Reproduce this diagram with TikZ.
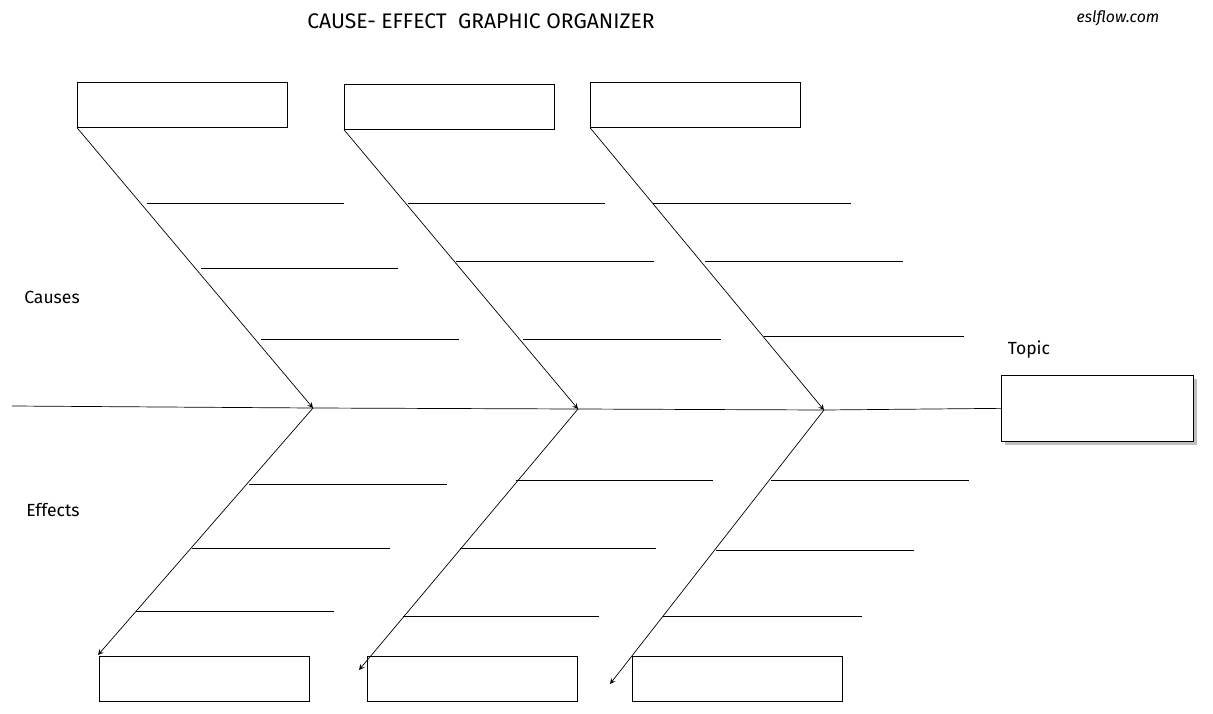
\documentclass[tikz,border=0pt]{standalone}
\usepackage{fontspec}
\setmainfont{Fira Sans}
\usetikzlibrary{shadows}

\tikzset{
  box/.style={draw, fill=white, minimum width=4.2cm, minimum height=0.9cm, inner sep=0pt},
  topicbox/.style={draw, fill=white, minimum width=3.84cm, minimum height=1.32cm, inner sep=0pt, drop shadow={shadow xshift=2pt, shadow yshift=-2pt, opacity=0.5}},
  bone/.style={draw, thin},
  lbl/.style={font=\normalsize}
}

\begin{document}
\begin{tikzpicture}[x=0.02cm, y=-0.02cm]
    \useasboundingbox (0,0) rectangle (1213,713);

    % Titel
    \node[font=\large] (title) at (481,21) {CAUSE- EFFECT\ \ GRAPHIC ORGANIZER};
    \node[font=\small\itshape] (site) at (1118,18) {eslflow.com};

    % Kästen oben
    \node[box, anchor=north west] (c1) at (77,82) {};
    \node[box, anchor=north west] (c2) at (344,84) {};
    \node[box, anchor=north west] (c3) at (590,82) {};

    % Kästen unten
    \node[box, anchor=north west] (e1) at (99,656) {};
    \node[box, anchor=north west] (e2) at (367,656) {};
    \node[box, anchor=north west] (e3) at (632,656) {};

    % Thema
    \node[topicbox, anchor=north west] (topic) at (1001,375) {};
    \node[lbl] (topiclbl) at (1029,350) {Topic};

    \node[lbl] (causes) at (52,297) {Causes};
    \node[lbl] (effects) at (53,510) {Effects};

    % Hauptlinie
    \coordinate (start) at (12,406);
    \coordinate (j1) at (313,408);
    \coordinate (j2) at (578,409);
    \coordinate (j3) at (824,410);
    \draw[bone] (start) -- (j1) -- (j2) -- (j3) -- (topic.west);

    % Ursachen
    \draw[bone, -stealth] (c1.south west) -- (j1);
    \draw[bone, -stealth] (c2.south west) -- (j2);
    \draw[bone, -stealth] (c3.south west) -- (j3);

    % Wirkungen
    \coordinate (f1) at (98,655);
    \coordinate (f2) at (359,670);
    \coordinate (f3) at (610,684);
    \draw[bone, -stealth] (j1) -- (f1);
    \draw[bone, -stealth] (j2) -- (f2);
    \draw[bone, -stealth] (j3) -- (f3);

    % Schreiblinien
    \foreach \x/\y/\w in {147/203/197, 201/268/197, 261/339/198,
                          408/203/197, 456/261/198, 523/339/198,
                          653/203/198, 705/261/198, 764/336/200,
                          249/484/198, 192/548/198, 136/611/198,
                          516/480/197, 460/548/196, 403/616/196,
                          771/480/198, 716/550/198, 663/616/199}
        \draw[bone] (\x,\y) -- ++(\w,0);

\end{tikzpicture}
\end{document}
